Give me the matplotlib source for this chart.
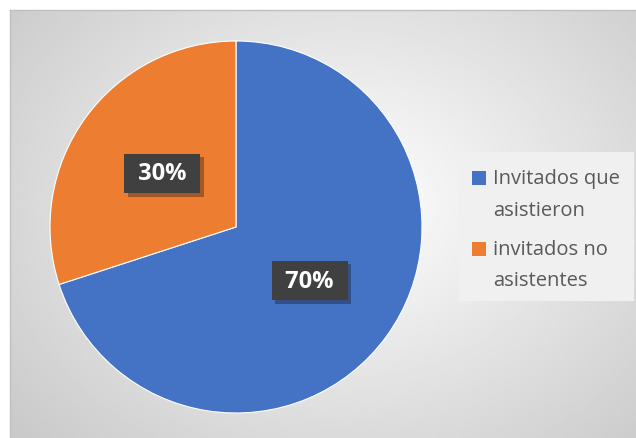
import matplotlib
matplotlib.use('Agg')
import matplotlib.pyplot as plt
import matplotlib.patheffects as pe
from matplotlib.patches import Rectangle
import numpy as np

labels = ['Invitados que\nasistieron', 'invitados no\nasistentes']
values = [70, 30]
pct_labels = ['70%', '30%']
colors = ['#4472C4', '#ED7D31']

plt.rcParams['font.family'] = ['Open Sans', 'DejaVu Sans']

fig = plt.figure(figsize=(6.36, 4.39), dpi=100)
fig.patch.set_facecolor('white')

# chart area with radial gradient background
W, H = 636, 439
x0, y0 = 10, 11
bg = fig.add_axes([x0 / W, 0, (W - x0) / W, (H - y0) / H])
yy, xx = np.mgrid[0:200, 0:300]
cx, cy = 160, 90
r = np.sqrt(((xx - cx) / 170.0) ** 2 + ((yy - cy) / 130.0) ** 2)
grad = 1.0 - 0.22 * np.clip(r, 0, 1.3) / 1.3
bg.imshow(grad, cmap='gray', vmin=0, vmax=1, aspect='auto', interpolation='bilinear')
bg.set_xticks([])
bg.set_yticks([])
for s in bg.spines.values():
    s.set_color('#c0c0c0')
    s.set_linewidth(1)
bg.spines['bottom'].set_visible(False)
bg.spines['right'].set_visible(False)

# pie
cxp, cyp, rad = 236, 228, 186
ax = fig.add_axes([(cxp - rad) / W, 1 - (cyp + rad) / H, 2 * rad / W, 2 * rad / H])
ax.set_facecolor('none')
wedges, _ = ax.pie(values, colors=colors, startangle=90, counterclock=False,
                   radius=1, wedgeprops=dict(edgecolor='white', linewidth=0.8))
ax.set_xlim(-1, 1)
ax.set_ylim(-1, 1)
ax.set_aspect('equal')
ax.axis('off')

for w, txt in zip(wedges, pct_labels):
    ang = np.deg2rad((w.theta1 + w.theta2) / 2)
    t = ax.text(0.49 * np.cos(ang), 0.49 * np.sin(ang), ' ' + txt + ' ', ha='center', va='center',
                fontsize=17, fontweight='bold', color='white',
                bbox=dict(boxstyle='square,pad=0.33', facecolor='#404040', edgecolor='none'))
    t.get_bbox_patch().set_path_effects([pe.SimplePatchShadow(offset=(2.5, -2.5), alpha=0.35),
                                         pe.Normal()])

# legend (drawn by hand so the marker sits on the first line)
lx, ly, lw, lh = 459, 153, 175, 149
fig.patches.append(Rectangle((lx / W, 1 - (ly + lh) / H), lw / W, lh / H,
                             transform=fig.transFigure, facecolor='#f0f0f0',
                             edgecolor='none', zorder=1))
for i, (lab, col) in enumerate(zip(labels, colors)):
    top = 172 + i * 70.5
    fig.patches.append(Rectangle((472 / W, 1 - (top + 14) / H), 14 / W, 14 / H,
                                 transform=fig.transFigure, facecolor=col,
                                 edgecolor='none', zorder=2))
    fig.text(493 / W, 1 - (195 + i * 70.5) / H, lab, ha='left', va='center',
             fontsize=14.5, color='#595959', linespacing=1.75, zorder=3)

fig.savefig('out.png', dpi=100)
